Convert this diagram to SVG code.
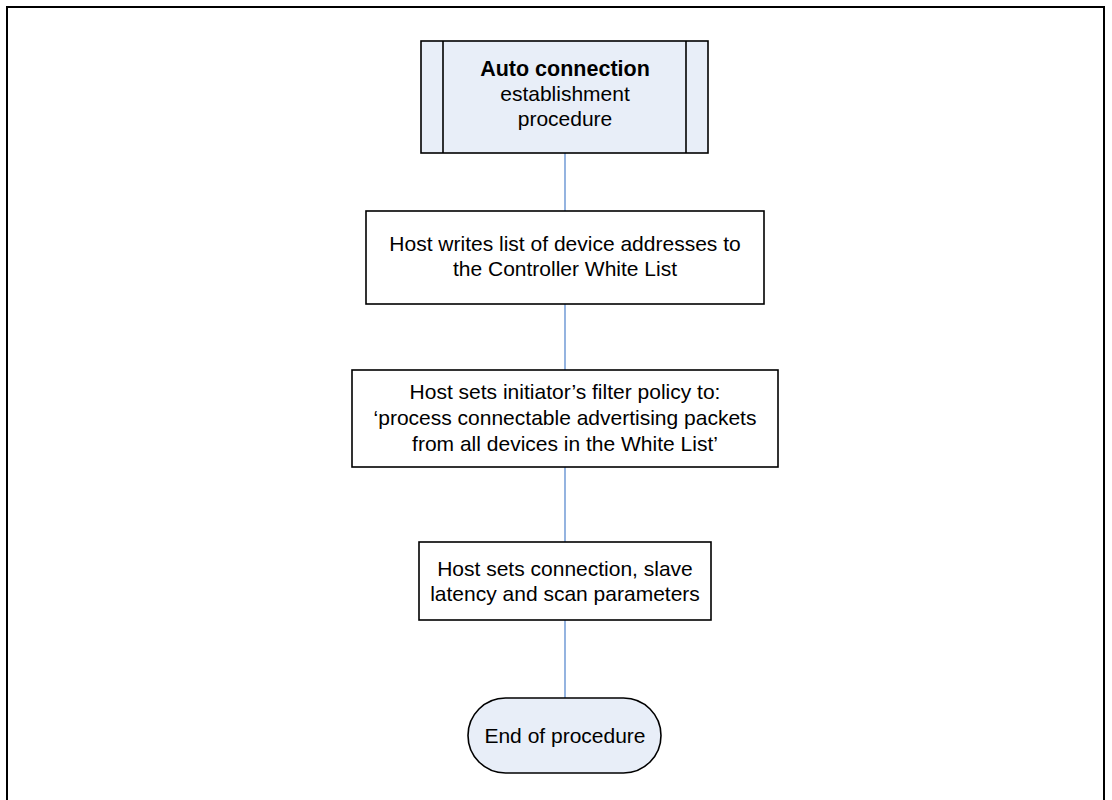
<svg xmlns="http://www.w3.org/2000/svg" width="1112" height="800" viewBox="0 0 1112 800">
<style>
.box{fill:#ffffff;stroke:#000;stroke-width:1.6}
.blue{fill:#e8eef8;stroke:#000;stroke-width:1.6}
.t{font-family:"Liberation Sans",Arial,sans-serif;font-size:21px;fill:#000;text-anchor:middle}
.b{font-weight:bold;font-size:21.5px}
.c{stroke:#5b8bd0;stroke-width:1.3;fill:none}
</style>
<rect x="7" y="7" width="1097" height="810" fill="#fff" stroke="#000" stroke-width="2"/>
<g id="connectors">
<line class="c" x1="565" y1="153" x2="565" y2="211"/>
<line class="c" x1="565" y1="304" x2="565" y2="370"/>
<line class="c" x1="565" y1="467" x2="565" y2="542"/>
<line class="c" x1="565" y1="620" x2="565" y2="698"/>
</g>
<g id="start">
<rect class="blue" x="421" y="41" width="287" height="112"/>
<line x1="443" y1="41" x2="443" y2="153" stroke="#000" stroke-width="1.6"/>
<line x1="686" y1="41" x2="686" y2="153" stroke="#000" stroke-width="1.6"/>
<text class="t b" x="565" y="76">Auto connection</text>
<text class="t" x="565" y="101">establishment</text>
<text class="t" x="565" y="126">procedure</text>
</g>
<g id="step1">
<rect class="box" x="366" y="211" width="398" height="93"/>
<text class="t" x="565" y="251">Host writes list of device addresses to</text>
<text class="t" x="565" y="276">the Controller White List</text>
</g>
<g id="step2">
<rect class="box" x="352" y="370" width="426" height="97"/>
<text class="t" x="565" y="399">Host sets initiator’s filter policy to:</text>
<text class="t" x="565" y="425">‘process connectable advertising packets</text>
<text class="t" x="565" y="451">from all devices in the White List’</text>
</g>
<g id="step3">
<rect class="box" x="419" y="542" width="292" height="78"/>
<text class="t" x="565" y="576">Host sets connection, slave</text>
<text class="t" x="565" y="601">latency and scan parameters</text>
</g>
<g id="end">
<rect class="blue" x="468" y="698" width="193" height="75" rx="37.5" ry="37.5"/>
<text class="t" x="565" y="743">End of procedure</text>
</g>
</svg>
